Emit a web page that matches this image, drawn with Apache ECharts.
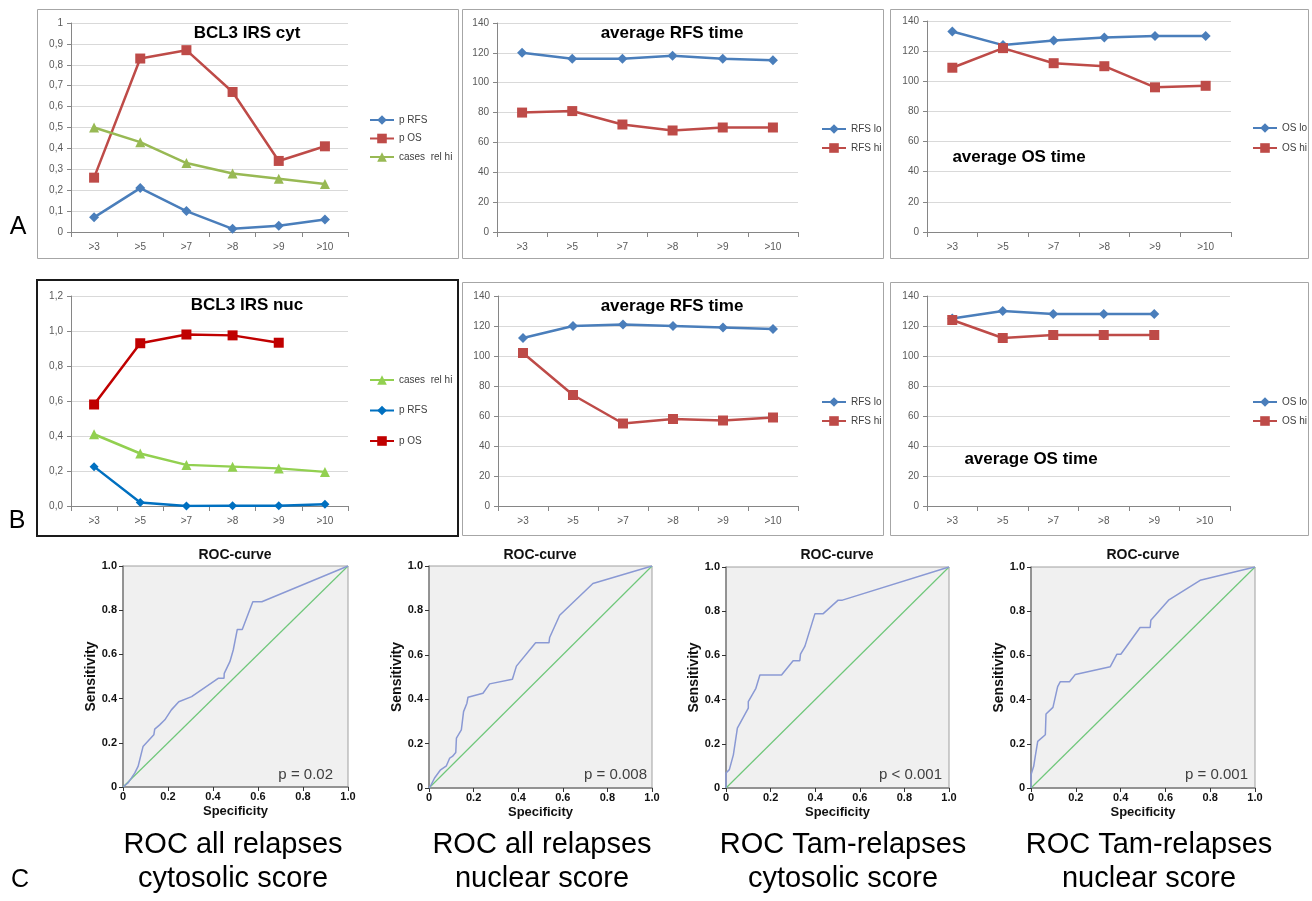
<!DOCTYPE html>
<html>
<head>
<meta charset="utf-8">
<script src="https://cdn.jsdelivr.net/npm/echarts@6/dist/echarts.min.js"></script>
<style>
  html, body { margin: 0; padding: 0; background: #fff; }
  #main { width: 1312px; height: 901px; }
</style>
</head>
<body>
<div id="main"></div>
<script>
// categories (IRS cut-off)
const cats = ['>3', '>5', '>7', '>8', '>9', '>10'];

// A: cytosolic score
const cytRFS = [0.07, 0.21, 0.10, 0.015, 0.03, 0.06];
const cytOS = [0.26, 0.83, 0.87, 0.67, 0.34, 0.41];
const cytCases = [0.50, 0.43, 0.33, 0.28, 0.255, 0.23];
const rfsLoA = [120, 116, 116, 118, 116, 115];
const rfsHiA = [80, 81, 72, 68, 70, 70];
const osLoA = [133, 124, 127, 129, 130, 130];
const osHiA = [109, 122, 112, 110, 96, 97];

// B: nuclear score
const nucCases = [0.41, 0.30, 0.235, 0.225, 0.215, 0.195];
const nucRFS = [0.225, 0.02, 0.0, 0.002, 0.002, 0.01];
const nucOS = [0.58, 0.93, 0.98, 0.975, 0.933, null];
const rfsLoB = [112, 120, 121, 120, 119, 118];
const rfsHiB = [102, 74, 55, 58, 57, 59];
const osLoB = [125, 130, 128, 128, 128, null];
const osHiB = [124, 112, 114, 114, 114, null];

// tick labels
const cytTicks = ['0', '0,1', '0,2', '0,3', '0,4', '0,5', '0,6', '0,7', '0,8', '0,9', '1'];
const nucTicks = ['0,0', '0,2', '0,4', '0,6', '0,8', '1,0', '1,2'];
const rocTicks = ['0', '0.2', '0.4', '0.6', '0.8', '1.0'];

// C: ROC curves [1-specificity, sensitivity]
const rocCytAll = [[0, 0], [0.022, 0.018], [0.03, 0.021], [0.037, 0.04], [0.052, 0.063], [0.067, 0.093],
  [0.089, 0.183], [0.137, 0.236], [0.141, 0.262], [0.163, 0.281], [0.186, 0.304], [0.215, 0.349],
  [0.248, 0.386], [0.305, 0.409], [0.423, 0.492], [0.449, 0.492], [0.45, 0.514], [0.475, 0.567],
  [0.49, 0.62], [0.508, 0.713], [0.53, 0.713], [0.577, 0.838], [0.617, 0.838], [1, 1]];
const rocNucAll = [[0, 0], [0.01, 0.015], [0.025, 0.045], [0.052, 0.082], [0.078, 0.1], [0.093, 0.135],
  [0.105, 0.142], [0.12, 0.16], [0.123, 0.225], [0.145, 0.262], [0.155, 0.344], [0.17, 0.382],
  [0.175, 0.409], [0.242, 0.427], [0.272, 0.469], [0.374, 0.49], [0.392, 0.549], [0.4, 0.554],
  [0.478, 0.654], [0.538, 0.654], [0.541, 0.678], [0.586, 0.778], [0.735, 0.921], [1, 1]];
const rocCytTam = [[0, 0], [0, 0.068], [0.015, 0.083], [0.033, 0.15], [0.051, 0.271], [0.1, 0.361],
  [0.1, 0.391], [0.134, 0.451], [0.152, 0.511], [0.249, 0.511], [0.301, 0.576], [0.331, 0.576],
  [0.334, 0.606], [0.354, 0.642], [0.399, 0.789], [0.436, 0.789], [0.503, 0.85], [0.522, 0.85], [1, 1]];
const rocNucTam = [[0, 0], [0, 0.06], [0.012, 0.098], [0.019, 0.143], [0.03, 0.211], [0.064, 0.241],
  [0.067, 0.335], [0.098, 0.365], [0.119, 0.459], [0.131, 0.481], [0.172, 0.481], [0.198, 0.514],
  [0.354, 0.549], [0.383, 0.605], [0.401, 0.605], [0.487, 0.726], [0.532, 0.726], [0.535, 0.759],
  [0.614, 0.85], [0.755, 0.94], [1, 1]];
const diagonal = [[0, 0], [1, 1]];

const FONT = '"Liberation Sans", Arial, sans-serif';
const blueX = '#4A7EBB', redX = '#BE4B48', greenX = '#98B954';
const blueB = '#0070C0', redB = '#C00000', greenB = '#92D050';

const chart = echarts.init(document.getElementById('main'));

const grids = [], xAxes = [], yAxes = [], series = [], legends = [];

// excel style line chart panel
function excelPanel(rect, max, interval, ticks, lines, legend) {
  const i = grids.length;
  grids.push({ left: rect[0], top: rect[1], width: rect[2], height: rect[3], containLabel: false });
  xAxes.push({
    gridIndex: i, type: 'category', data: cats, boundaryGap: true,
    axisLine: { lineStyle: { color: '#868686', width: 1 } },
    axisTick: { show: true, length: 5, lineStyle: { color: '#868686' } },
    axisLabel: { fontSize: 10, color: '#595959', margin: 10, fontFamily: FONT }
  });
  yAxes.push({
    gridIndex: i, type: 'value', min: 0, max: max, interval: interval,
    axisLine: { show: true, lineStyle: { color: '#868686', width: 1 } },
    axisTick: { show: true, length: 4, lineStyle: { color: '#868686' } },
    axisLabel: {
      fontSize: 10, color: '#595959', margin: 8, fontFamily: FONT,
      formatter: ticks ? (v) => ticks[Math.round(v / interval)] : null
    },
    splitLine: { lineStyle: { color: '#D9D9D9', width: 1 } }
  });
  lines.forEach(function (l) {
    series.push({
      type: 'line', name: l.name, xAxisIndex: i, yAxisIndex: i, data: l.data,
      symbol: l.symbol, symbolSize: l.size, connectNulls: false,
      lineStyle: { color: l.color, width: 2.5 },
      itemStyle: { color: l.color }
    });
  });
  legends.push({
    orient: 'vertical', left: legend[0], top: legend[1], itemGap: legend[2],
    itemWidth: 24, itemHeight: 12, selectedMode: false,
    textStyle: { fontSize: 10, color: '#404040', fontFamily: FONT },
    data: lines.map(l => l.name).sort((a, b) => legend[3].indexOf(a.trim()) - legend[3].indexOf(b.trim()))
  });
}

excelPanel([71, 23, 277, 209], 1, 0.1, cytTicks, [
  { name: 'p RFS', data: cytRFS, color: blueX, symbol: 'diamond', size: 10 },
  { name: 'p OS', data: cytOS, color: redX, symbol: 'rect', size: 10 },
  { name: 'cases  rel hi', data: cytCases, color: greenX, symbol: 'triangle', size: 10 }
], [364, 110, 8.5, ['p RFS', 'p OS', 'cases  rel hi']]);

excelPanel([497, 23, 301, 209], 140, 20, null, [
  { name: 'RFS lo', data: rfsLoA, color: blueX, symbol: 'diamond', size: 10 },
  { name: 'RFS hi', data: rfsHiA, color: redX, symbol: 'rect', size: 10 }
], [816, 119, 9, ['RFS lo', 'RFS hi']]);

excelPanel([927, 21, 304, 211], 140, 20, null, [
  { name: 'OS lo', data: osLoA, color: blueX, symbol: 'diamond', size: 10 },
  { name: 'OS hi', data: osHiA, color: redX, symbol: 'rect', size: 10 }
], [1247, 118, 10, ['OS lo', 'OS hi']]);

excelPanel([71, 296, 277, 210], 1.2, 0.2, nucTicks, [
  { name: 'p RFS ', data: nucRFS, color: blueB, symbol: 'diamond', size: 9 },
  { name: 'p OS ', data: nucOS, color: redB, symbol: 'rect', size: 10 },
  { name: 'cases  rel hi ', data: nucCases, color: greenB, symbol: 'triangle', size: 10 }
], [364, 370, 20.5, ['cases  rel hi', 'p RFS', 'p OS']]);

excelPanel([498, 296, 300, 210], 140, 20, null, [
  { name: 'RFS lo ', data: rfsLoB, color: blueX, symbol: 'diamond', size: 10 },
  { name: 'RFS hi ', data: rfsHiB, color: redX, symbol: 'rect', size: 10 }
], [816, 392, 9, ['RFS lo', 'RFS hi']]);

excelPanel([927, 296, 303, 210], 140, 20, null, [
  { name: 'OS lo ', data: osLoB, color: blueX, symbol: 'diamond', size: 10 },
  { name: 'OS hi ', data: osHiB, color: redX, symbol: 'rect', size: 10 }
], [1247, 392, 9, ['OS lo', 'OS hi']]);

// ROC panels
function rocPanel(rect, curve) {
  const i = grids.length;
  grids.push({
    left: rect[0], top: rect[1], width: rect[2], height: rect[3], show: true,
    backgroundColor: '#F0F0F0', borderColor: '#A0A0A0', borderWidth: 1
  });
  const axisCommon = {
    type: 'value', min: 0, max: 1, interval: 0.2,
    axisLine: { show: true, lineStyle: { color: '#808080', width: 1.5 } },
    axisTick: { show: true, length: 4, lineStyle: { color: '#333' } },
    splitLine: { show: false },
    nameLocation: 'middle',
    nameTextStyle: { fontSize: 13, fontWeight: 'bold', color: '#111', fontFamily: FONT }
  };
  xAxes.push(Object.assign({}, axisCommon, {
    gridIndex: i, name: 'Specificity', nameGap: 18,
    axisLabel: { fontSize: 11, fontWeight: 'bold', color: '#111', margin: 4, fontFamily: FONT,
      formatter: (v) => rocTicks[Math.round(v * 5)] }
  }));
  yAxes.push(Object.assign({}, axisCommon, {
    gridIndex: i, name: 'Sensitivity', nameGap: 24, nameRotate: 90,
    nameTextStyle: { fontSize: 14, fontWeight: 'bold', color: '#111', fontFamily: FONT },
    axisLabel: { fontSize: 11, fontWeight: 'bold', color: '#111', margin: 6, fontFamily: FONT,
      formatter: (v) => rocTicks[Math.round(v * 5)] }
  }));
  series.push({
    type: 'line', xAxisIndex: i, yAxisIndex: i, data: diagonal, showSymbol: false,
    lineStyle: { color: '#6FC77A', width: 1.2 }, silent: true
  });
  series.push({
    type: 'line', xAxisIndex: i, yAxisIndex: i, data: curve, showSymbol: false,
    lineStyle: { color: '#8A99D4', width: 1.5 }, silent: true
  });
}

rocPanel([123, 566, 225, 221], rocCytAll);
rocPanel([429, 566, 223, 222], rocNucAll);
rocPanel([726, 567, 223, 221], rocCytTam);
rocPanel([1031, 567, 224, 221], rocNucTam);

// frames and free text
const graphic = [];
function box(x, y, w, h, color, lw) {
  graphic.push({ type: 'rect', shape: { x: x, y: y, width: w, height: h },
    style: { fill: 'none', stroke: color, lineWidth: lw }, silent: true });
}
function txt(x, y, text, size, opts) {
  graphic.push({ type: 'text', x: x, y: y, silent: true,
    style: Object.assign({ text: text, fontSize: size, fontFamily: FONT, fill: '#000',
      textAlign: 'center', textVerticalAlign: 'middle' }, opts || {}) });
}

box(37.5, 9.5, 421, 249, '#A6A6A6', 1);
box(462.5, 9.5, 421, 249, '#A6A6A6', 1);
box(890.5, 9.5, 418, 249, '#A6A6A6', 1);
box(37, 280, 421, 256, '#1A1A1A', 2);
box(462.5, 282.5, 421, 253, '#A6A6A6', 1);
box(890.5, 282.5, 418, 253, '#A6A6A6', 1);

txt(247, 33, 'BCL3 IRS cyt', 17, { fontWeight: 'bold' });
txt(672, 33, 'average RFS time', 17, { fontWeight: 'bold' });
txt(1019, 157, 'average OS time', 17, { fontWeight: 'bold' });
txt(247, 305, 'BCL3 IRS nuc', 17, { fontWeight: 'bold' });
txt(672, 306, 'average RFS time', 17, { fontWeight: 'bold' });
txt(1031, 459, 'average OS time', 17, { fontWeight: 'bold' });

txt(18, 227, 'A', 25);
txt(17, 521, 'B', 25);
txt(20, 880, 'C', 25);

const rocCenters = [235, 540, 837, 1143];
rocCenters.forEach(function (cx) { txt(cx, 555, 'ROC-curve', 14, { fontWeight: 'bold', fill: '#111' }); });

txt(333, 775, 'p = 0.02', 15, { textAlign: 'right', fill: '#404040' });
txt(647, 775, 'p = 0.008', 15, { textAlign: 'right', fill: '#404040' });
txt(942, 775, 'p < 0.001', 15, { textAlign: 'right', fill: '#404040' });
txt(1248, 775, 'p = 0.001', 15, { textAlign: 'right', fill: '#404040' });

const captions = [['ROC all relapses', 'cytosolic score'], ['ROC all relapses', 'nuclear score'],
  ['ROC Tam-relapses', 'cytosolic score'], ['ROC Tam-relapses', 'nuclear score']];
const capX = [233, 542, 843, 1149];
captions.forEach(function (c, k) {
  txt(capX[k], 845, c[0], 29);
  txt(capX[k], 879, c[1], 29);
});

chart.setOption({
  animation: false,
  backgroundColor: '#fff',
  grid: grids,
  xAxis: xAxes,
  yAxis: yAxes,
  legend: legends,
  series: series,
  graphic: graphic
});
</script>
</body>
</html>
